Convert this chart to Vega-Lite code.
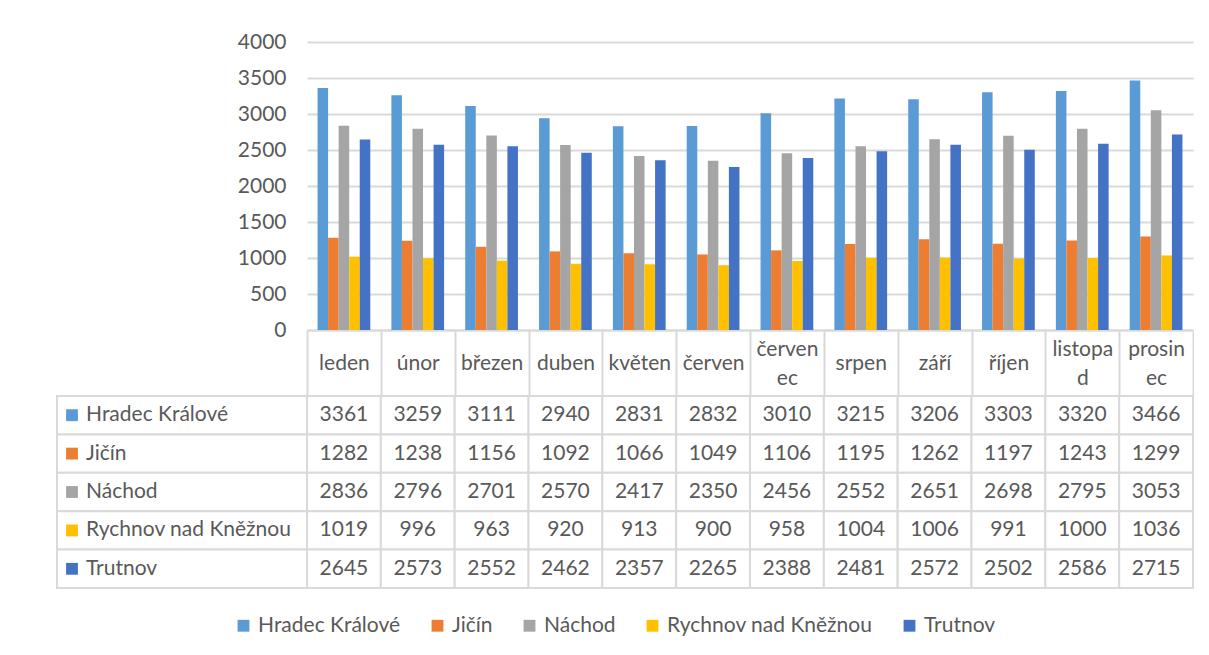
{
  "$schema": "https://vega.github.io/schema/vega-lite/v6.json",
  "background": "white",
  "padding": {"left": 56, "top": 31, "right": 0, "bottom": 0},
  "datasets": {
    "d": [
      {"month": "leden", "series": "Hradec Králové", "value": 3361},
      {"month": "únor", "series": "Hradec Králové", "value": 3259},
      {"month": "březen", "series": "Hradec Králové", "value": 3111},
      {"month": "duben", "series": "Hradec Králové", "value": 2940},
      {"month": "květen", "series": "Hradec Králové", "value": 2831},
      {"month": "červen", "series": "Hradec Králové", "value": 2832},
      {"month": "červenec", "series": "Hradec Králové", "value": 3010},
      {"month": "srpen", "series": "Hradec Králové", "value": 3215},
      {"month": "září", "series": "Hradec Králové", "value": 3206},
      {"month": "říjen", "series": "Hradec Králové", "value": 3303},
      {"month": "listopad", "series": "Hradec Králové", "value": 3320},
      {"month": "prosinec", "series": "Hradec Králové", "value": 3466},
      {"month": "leden", "series": "Jičín", "value": 1282},
      {"month": "únor", "series": "Jičín", "value": 1238},
      {"month": "březen", "series": "Jičín", "value": 1156},
      {"month": "duben", "series": "Jičín", "value": 1092},
      {"month": "květen", "series": "Jičín", "value": 1066},
      {"month": "červen", "series": "Jičín", "value": 1049},
      {"month": "červenec", "series": "Jičín", "value": 1106},
      {"month": "srpen", "series": "Jičín", "value": 1195},
      {"month": "září", "series": "Jičín", "value": 1262},
      {"month": "říjen", "series": "Jičín", "value": 1197},
      {"month": "listopad", "series": "Jičín", "value": 1243},
      {"month": "prosinec", "series": "Jičín", "value": 1299},
      {"month": "leden", "series": "Náchod", "value": 2836},
      {"month": "únor", "series": "Náchod", "value": 2796},
      {"month": "březen", "series": "Náchod", "value": 2701},
      {"month": "duben", "series": "Náchod", "value": 2570},
      {"month": "květen", "series": "Náchod", "value": 2417},
      {"month": "červen", "series": "Náchod", "value": 2350},
      {"month": "červenec", "series": "Náchod", "value": 2456},
      {"month": "srpen", "series": "Náchod", "value": 2552},
      {"month": "září", "series": "Náchod", "value": 2651},
      {"month": "říjen", "series": "Náchod", "value": 2698},
      {"month": "listopad", "series": "Náchod", "value": 2795},
      {"month": "prosinec", "series": "Náchod", "value": 3053},
      {"month": "leden", "series": "Rychnov nad Kněžnou", "value": 1019},
      {"month": "únor", "series": "Rychnov nad Kněžnou", "value": 996},
      {"month": "březen", "series": "Rychnov nad Kněžnou", "value": 963},
      {"month": "duben", "series": "Rychnov nad Kněžnou", "value": 920},
      {"month": "květen", "series": "Rychnov nad Kněžnou", "value": 913},
      {"month": "červen", "series": "Rychnov nad Kněžnou", "value": 900},
      {"month": "červenec", "series": "Rychnov nad Kněžnou", "value": 958},
      {"month": "srpen", "series": "Rychnov nad Kněžnou", "value": 1004},
      {"month": "září", "series": "Rychnov nad Kněžnou", "value": 1006},
      {"month": "říjen", "series": "Rychnov nad Kněžnou", "value": 991},
      {"month": "listopad", "series": "Rychnov nad Kněžnou", "value": 1000},
      {"month": "prosinec", "series": "Rychnov nad Kněžnou", "value": 1036},
      {"month": "leden", "series": "Trutnov", "value": 2645},
      {"month": "únor", "series": "Trutnov", "value": 2573},
      {"month": "březen", "series": "Trutnov", "value": 2552},
      {"month": "duben", "series": "Trutnov", "value": 2462},
      {"month": "květen", "series": "Trutnov", "value": 2357},
      {"month": "červen", "series": "Trutnov", "value": 2265},
      {"month": "červenec", "series": "Trutnov", "value": 2388},
      {"month": "srpen", "series": "Trutnov", "value": 2481},
      {"month": "září", "series": "Trutnov", "value": 2572},
      {"month": "říjen", "series": "Trutnov", "value": 2502},
      {"month": "listopad", "series": "Trutnov", "value": 2586},
      {"month": "prosinec", "series": "Trutnov", "value": 2715}
    ]
  },
  "columns": 2,
  "spacing": {"row": 66, "column": 0},
  "bounds": "flush",
  "resolve": {"scale": {"x": "independent", "y": "independent", "color": "shared"}},
  "concat": [
    {
      "width": 250,
      "height": 288,
      "data": {"values": [{"blank": ""}]},
      "mark": {"type": "text"},
      "encoding": {"text": {"field": "blank"}}
    },
    {
      "width": 886,
      "height": 288,
      "data": {"name": "d"},
      "mark": {"type": "bar"},
      "encoding": {
        "x": {
          "field": "month", "type": "nominal",
          "sort": ["leden", "únor", "březen", "duben", "květen", "červen", "červenec", "srpen", "září", "říjen", "listopad", "prosinec"],
          "scale": {"paddingInner": 0, "paddingOuter": 0},
          "axis": {
            "title": null, "labelAngle": 0,
            "domainColor": "#D9D9D9", "domainWidth": 2,
            "ticks": true, "tickBand": "extent", "tickSize": 66, "tickColor": "#D9D9D9", "tickWidth": 2,
            "labelFont": "Lato", "labelFontSize": 21, "labelColor": "#595959",
            "labelBaseline": {
              "condition": {"test": "datum.value == 'červenec' || datum.value == 'listopad' || datum.value == 'prosinec'", "value": "line-bottom"},
              "value": "middle"
            },
            "labelLineHeight": 29, "labelPadding": -33,
            "labelExpr": "datum.label == 'červenec' ? ['červen','ec'] : datum.label == 'listopad' ? ['listopa','d'] : datum.label == 'prosinec' ? ['prosin','ec'] : datum.label"
          }
        },
        "xOffset": {
          "field": "series", "type": "nominal",
          "sort": ["Hradec Králové", "Jičín", "Náchod", "Rychnov nad Kněžnou", "Trutnov"],
          "scale": {"paddingInner": 0, "paddingOuter": 1.07}
        },
        "y": {
          "field": "value", "type": "quantitative",
          "scale": {"domain": [0, 4000], "nice": false},
          "axis": {
            "title": null, "values": [0, 500, 1000, 1500, 2000, 2500, 3000, 3500, 4000], "format": "d",
            "domain": false, "ticks": false,
            "gridColor": "#D9D9D9", "gridWidth": 2,
            "labelFont": "Lato", "labelFontSize": 21, "labelColor": "#595959", "labelPadding": 21
          }
        },
        "color": {
          "field": "series", "type": "nominal", "title": null,
          "sort": ["Hradec Králové", "Jičín", "Náchod", "Rychnov nad Kněžnou", "Trutnov"],
          "scale": {
            "domain": ["Hradec Králové", "Jičín", "Náchod", "Rychnov nad Kněžnou", "Trutnov"],
            "range": ["#5B9BD5", "#ED7D31", "#A5A5A5", "#FFC000", "#4472C4"]
          }
        }
      }
    },
    {
      "width": 250,
      "height": 192,
      "data": {"name": "d"},
      "transform": [{"aggregate": [{"op": "count", "as": "n"}], "groupby": ["series"]}],
      "encoding": {
        "y": {
          "field": "series", "type": "nominal",
          "sort": ["Hradec Králové", "Jičín", "Náchod", "Rychnov nad Kněžnou", "Trutnov"],
          "scale": {"paddingInner": 0, "paddingOuter": 0},
          "axis": null
        }
      },
      "layer": [
        {"mark": {"type": "rect", "fill": "white", "stroke": "#D9D9D9", "strokeWidth": 2}},
        {
          "mark": {"type": "square", "size": 140, "filled": true, "opacity": 1},
          "encoding": {
            "x": {"value": 15},
            "color": {
              "field": "series", "type": "nominal", "title": null,
              "scale": {
                "domain": ["Hradec Králové", "Jičín", "Náchod", "Rychnov nad Kněžnou", "Trutnov"],
                "range": ["#5B9BD5", "#ED7D31", "#A5A5A5", "#FFC000", "#4472C4"]
              }
            }
          }
        },
        {
          "mark": {"type": "text", "align": "left", "font": "Lato", "fontSize": 21, "color": "#595959"},
          "encoding": {"x": {"value": 29}, "text": {"field": "series"}}
        }
      ]
    },
    {
      "width": 886,
      "height": 192,
      "data": {"name": "d"},
      "encoding": {
        "x": {
          "field": "month", "type": "nominal",
          "sort": ["leden", "únor", "březen", "duben", "květen", "červen", "červenec", "srpen", "září", "říjen", "listopad", "prosinec"],
          "scale": {"paddingInner": 0, "paddingOuter": 0},
          "axis": null
        },
        "y": {
          "field": "series", "type": "nominal",
          "sort": ["Hradec Králové", "Jičín", "Náchod", "Rychnov nad Kněžnou", "Trutnov"],
          "scale": {"paddingInner": 0, "paddingOuter": 0},
          "axis": null
        }
      },
      "layer": [
        {"mark": {"type": "rect", "fill": "white", "stroke": "#D9D9D9", "strokeWidth": 2}},
        {
          "mark": {"type": "text", "font": "Lato", "fontSize": 21, "color": "#595959"},
          "encoding": {"text": {"field": "value", "type": "quantitative", "format": "d"}}
        }
      ]
    }
  ],
  "config": {
    "view": {"stroke": null},
    "legend": {
      "orient": "none", "direction": "horizontal", "legendX": 176, "legendY": 573,
      "symbolType": "square", "symbolSize": 140, "symbolStrokeWidth": 0,
      "labelFont": "Lato", "labelFontSize": 21, "labelColor": "#595959", "labelLimit": 400,
      "labelOffset": 4, "columnPadding": 26
    }
  }
}
